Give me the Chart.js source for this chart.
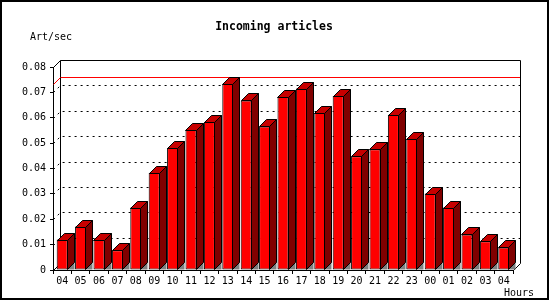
<!DOCTYPE html>
<html>
<head>
<meta charset="utf-8">
<title>Incoming articles</title>
<script src="https://cdn.jsdelivr.net/npm/chart.js@4/dist/chart.umd.min.js"></script>
<style>
  html, body { margin: 0; padding: 0; background: #fff; }
  #wrap { width: 550px; height: 300px; }
</style>
</head>
<body>
<div id="wrap"><canvas id="artChart" width="550" height="300"></canvas></div>
<script>
// --- data ---------------------------------------------------------------
const HOURS = ['04','05','06','07','08','09','10','11','12','13','14','15','16',
               '17','18','19','20','21','22','23','00','01','02','03','04'];
const ARTICLES = [0.0120, 0.0171, 0.0118, 0.0078, 0.0246, 0.0383, 0.0481, 0.0553,
                  0.0583, 0.0734, 0.0668, 0.0566, 0.0682, 0.0715, 0.0620, 0.0686,
                  0.0448, 0.0476, 0.0612, 0.0517, 0.0301, 0.0246, 0.0140, 0.0113,
                  0.0089];
const Y_TICK_VALUES = [0, 0.01, 0.02, 0.03, 0.04, 0.05, 0.06, 0.07, 0.08];
const Y_TICK_LABELS = ['0','0.01','0.02','0.03','0.04','0.05','0.06','0.07','0.08'];
const MAX_LINE = Math.max(...ARTICLES);

const DEPTH = 7;
const MONO = 'DejaVu Sans Mono';
const px = v => Math.round(v) + 0.5;

// back panel, dotted grid and max line (behind the bars)
const backPanel = {
  id: 'backPanel',
  beforeDatasetsDraw(chart) {
    const { ctx, chartArea: a, scales: { y } } = chart;
    const L = px(a.left), R = px(a.right), T = px(a.top), B = px(a.bottom);
    ctx.save();
    ctx.lineWidth = 1;
    ctx.strokeStyle = '#000';

    ctx.setLineDash([2, 4]);
    Y_TICK_VALUES.slice(1, -1).forEach(v => {
      const yy = px(y.getPixelForValue(v));
      ctx.beginPath();
      ctx.moveTo(L, yy);
      ctx.lineTo(L + DEPTH, yy - DEPTH);
      ctx.lineTo(R + DEPTH, yy - DEPTH);
      ctx.stroke();
    });
    ctx.setLineDash([]);

    // box edges
    ctx.beginPath();
    ctx.moveTo(L, T);
    ctx.lineTo(L + DEPTH, T - DEPTH);
    ctx.lineTo(R + DEPTH, T - DEPTH);
    ctx.lineTo(R + DEPTH, B - DEPTH);
    ctx.lineTo(R, B);
    ctx.moveTo(L + DEPTH, T - DEPTH);
    ctx.lineTo(L + DEPTH, B - DEPTH);
    ctx.moveTo(L, B);
    ctx.lineTo(L + DEPTH, B - DEPTH);
    ctx.stroke();

    // max line, red
    const my = Math.round(y.getPixelForValue(MAX_LINE));
    ctx.fillStyle = '#ff0000';
    ctx.fillRect(Math.round(a.left) + DEPTH + 1, my - DEPTH, Math.round(a.right) - Math.round(a.left) - 1, 1);
    ctx.strokeStyle = '#ff0000';
    ctx.beginPath();
    ctx.moveTo(L, my + 0.5);
    ctx.lineTo(L + DEPTH, my + 0.5 - DEPTH);
    ctx.stroke();
    ctx.restore();
  }
};

// top and side faces of each bar, plus floor shadow
const bars3d = {
  id: 'bars3d',
  afterDatasetsDraw(chart) {
    const { ctx } = chart;
    const meta = chart.getDatasetMeta(0);
    ctx.save();
    ctx.lineWidth = 1;
    ctx.strokeStyle = '#000';
    meta.data.forEach(bar => {
      const { x, y, base, width } = bar.getProps(['x', 'y', 'base', 'width'], true);
      const l = Math.round(x - width / 2) + 0.5;
      const r = Math.round(x + width / 2) - 0.5;
      const t = Math.round(y) + 0.5;
      const b = Math.round(base) - 0.5;

      ctx.fillStyle = '#808080';
      ctx.beginPath();
      ctx.moveTo(r, b);
      ctx.lineTo(r + DEPTH, b - DEPTH);
      ctx.lineTo(r + DEPTH, b);
      ctx.closePath();
      ctx.fill();

      ctx.fillStyle = '#800000';
      ctx.beginPath();
      ctx.moveTo(r, t);
      ctx.lineTo(r + DEPTH, t - DEPTH);
      ctx.lineTo(r + DEPTH, b - DEPTH);
      ctx.lineTo(r, b);
      ctx.closePath();
      ctx.fill();
      ctx.stroke();

      ctx.fillStyle = '#c80000';
      ctx.beginPath();
      ctx.moveTo(l, t);
      ctx.lineTo(l + DEPTH, t - DEPTH);
      ctx.lineTo(r + DEPTH, t - DEPTH);
      ctx.lineTo(r, t);
      ctx.closePath();
      ctx.fill();
      ctx.stroke();
    });
    ctx.restore();
  }
};

// titles and frame
const labels = {
  id: 'labels',
  afterDraw(chart) {
    const { ctx, width, height } = chart;
    ctx.save();
    ctx.fillStyle = '#000';
    ctx.textBaseline = 'middle';
    ctx.font = `bold 11.5px "${MONO}"`;
    ctx.textAlign = 'center';
    ctx.fillText('Incoming articles', 274, 27);
    ctx.font = `10px "${MONO}"`;
    ctx.textAlign = 'left';
    ctx.fillText('Art/sec', 30, 37);
    ctx.textAlign = 'center';
    ctx.fillText('Hours', 519, 293);
    ctx.lineWidth = 2;
    ctx.strokeStyle = '#000';
    ctx.strokeRect(1, 1, width - 3, height - 2);
    ctx.restore();
  }
};

new Chart(document.getElementById('artChart'), {
  type: 'bar',
  data: {
    labels: HOURS,
    datasets: [{
      label: 'Art/sec',
      data: ARTICLES,
      backgroundColor: '#ff0000',
      borderColor: '#000',
      borderWidth: 1,
      borderSkipped: false,
      barPercentage: 0.6,
      categoryPercentage: 1
    }]
  },
  options: {
    responsive: false,
    animation: false,
    devicePixelRatio: 1,
    layout: { padding: { top: 67, right: 37, left: 0, bottom: 0 } },
    plugins: {
      legend: { display: false },
      tooltip: { enabled: false },
      title: { display: false }
    },
    scales: {
      x: {
        afterFit: s => { s.height = 30; },
        grid: { drawOnChartArea: false, color: '#000', tickLength: 4, offset: true },
        border: { display: true, color: '#000', width: 1 },
        ticks: { color: '#000', font: { family: MONO, size: 10 }, padding: 1, maxRotation: 0, autoSkip: false }
      },
      y: {
        min: 0,
        max: 0.08,
        afterFit: s => { s.width = 53; },
        afterBuildTicks: s => { s.ticks = Y_TICK_VALUES.map(v => ({ value: v })); },
        grid: { drawOnChartArea: false, color: '#000', tickLength: 3 },
        border: { display: true, color: '#000', width: 1 },
        ticks: {
          color: '#000',
          font: { family: MONO, size: 10 },
          padding: 4,
          callback: (v, i) => Y_TICK_LABELS[i]
        }
      }
    }
  },
  plugins: [backPanel, bars3d, labels]
});
</script>
</body>
</html>
